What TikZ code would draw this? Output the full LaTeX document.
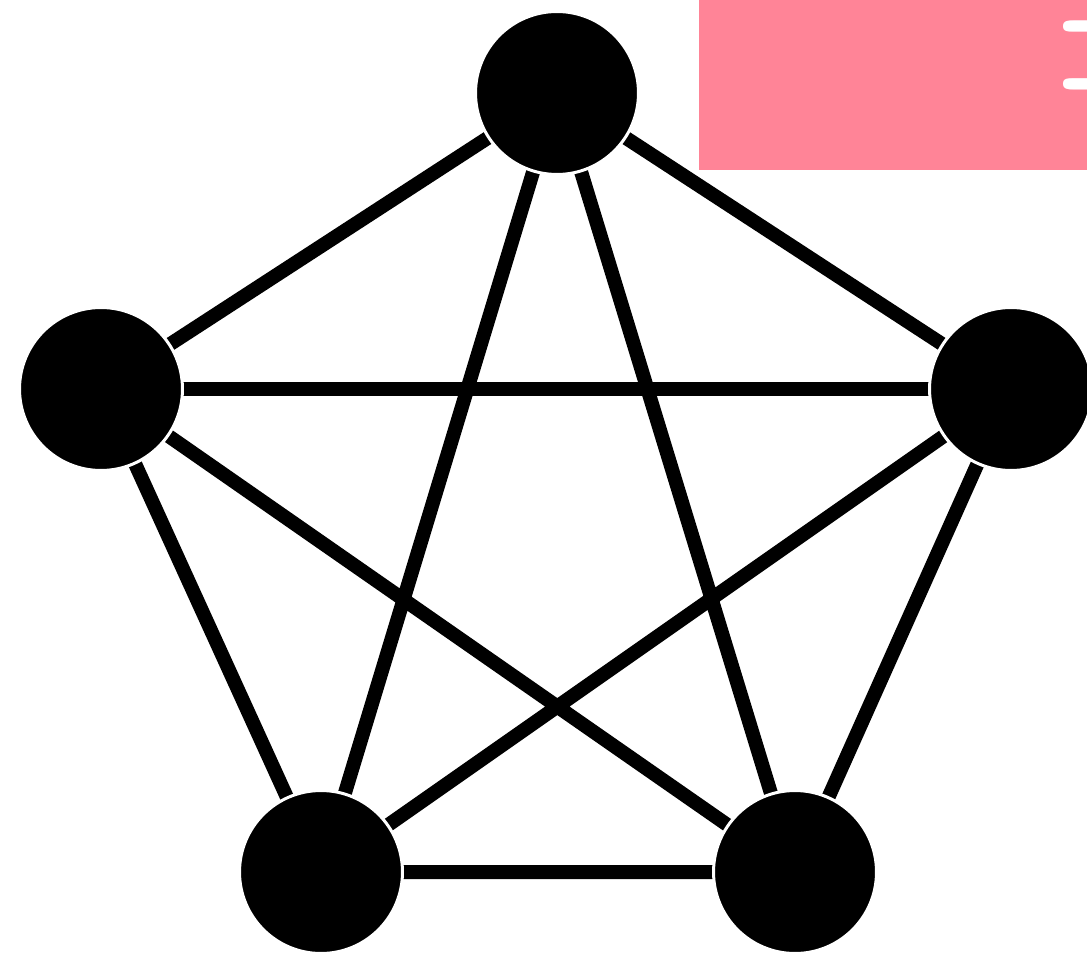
\documentclass[tikz,border=0pt]{standalone}
\usepackage{fontspec}
\begin{document}
\begin{tikzpicture}[x=0.02cm,y=-0.02cm,
  vertex/.style={circle,fill=black,draw=white,line width=0.06cm,minimum size=3.26cm,inner sep=0pt},
  edge/.style={line width=0.28cm,black}]
\useasboundingbox (0,0) rectangle (1087,955);
\fill[fill={rgb,255:red,255;green,132;blue,151}] (699,-5) rectangle (1100,170);
\node[anchor=base west,inner sep=0pt,text=white,font=\fontsize{185}{185}\selectfont] (lbl) at (1048,137) {=};
\coordinate (A) at (557,93);
\coordinate (B) at (101,389);
\coordinate (C) at (1011,389);
\coordinate (D) at (321,872);
\coordinate (E) at (795,872);
\draw[edge] (A) -- (B) (A) -- (C) (A) -- (D) (A) -- (E)
  (B) -- (C) (B) -- (D) (B) -- (E)
  (C) -- (D) (C) -- (E) (D) -- (E);
\node[vertex] (a) at (A) {};
\node[vertex] (b) at (B) {};
\node[vertex] (c) at (C) {};
\node[vertex] (d) at (D) {};
\node[vertex] (e) at (E) {};
\end{tikzpicture}
\end{document}
